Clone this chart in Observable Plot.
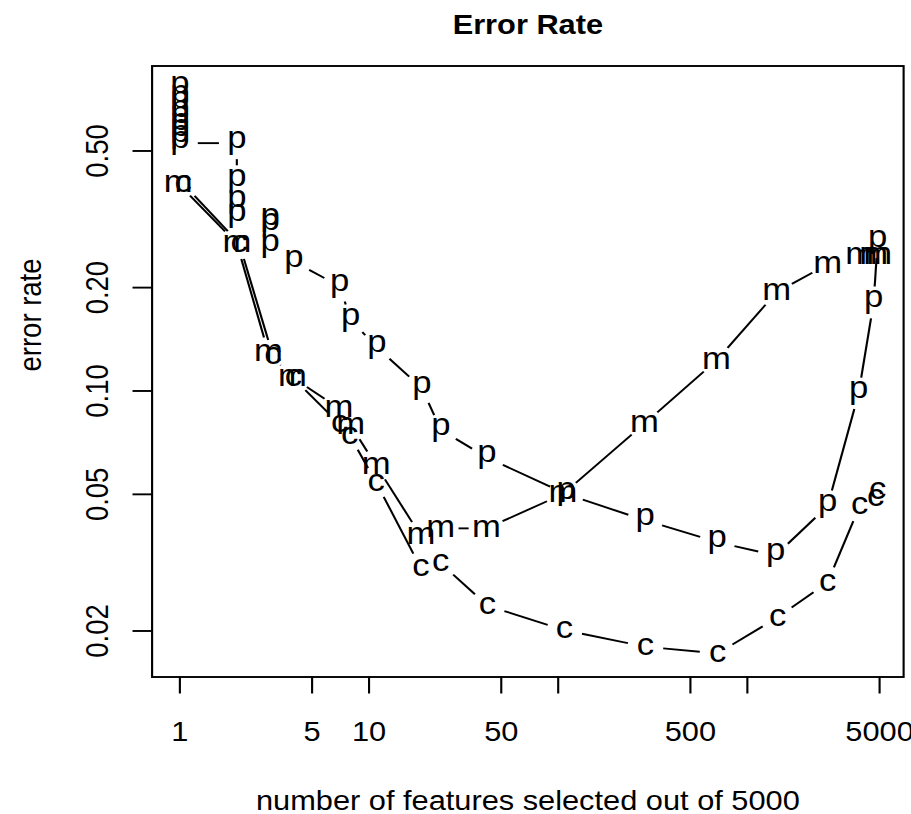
<!DOCTYPE html>
<html><head><meta charset="utf-8">
<script src="https://cdn.jsdelivr.net/npm/d3@7"></script>
<script src="https://cdn.jsdelivr.net/npm/@observablehq/plot@0.6"></script>
<style>html,body{margin:0;padding:0;background:#fff;} #chart svg{display:block;}</style>
</head><body><div id="chart"></div>
<script>
// ---- data ----
const pX = [1,1,1,1,1,1,1,1,1, 2,2,2,2, 3,3,3, 4, 7, 8, 11, 19, 24, 42, 110, 288, 692, 1410, 2656, 3873, 4650, 4882];
const pY = [0.76,0.72,0.69,0.65,0.625,0.595,0.57,0.55,0.527, 0.527,0.408,0.356,0.324, 0.315,0.305,0.265, 0.238, 0.202, 0.161, 0.134, 0.102, 0.077, 0.064, 0.0501, 0.042, 0.0363, 0.0332, 0.0462, 0.0983, 0.181, 0.2716];
const mX = [0.98, 2.0, 2.94, 3.94, 6.93, 8.0, 10.9, 18.8, 23.9, 41.8, 106, 286, 687, 1427, 2656, 3921, 4650, 4880];
const mY = [0.402, 0.269, 0.129, 0.1095, 0.089, 0.0794, 0.0607, 0.0378, 0.0398, 0.0398, 0.0501, 0.0804, 0.1227, 0.194, 0.2336, 0.247, 0.248, 0.248];
const cX = [1.04, 2.06, 3.1, 3.98, 7.0, 7.9, 10.9, 18.8, 23.9, 42.3, 108, 289, 696, 1444, 2656, 3921, 4764, 4882];
const cY = [0.402, 0.269, 0.127, 0.109, 0.080, 0.0742, 0.0542, 0.0305, 0.0315, 0.0237, 0.0201, 0.018, 0.0172, 0.0219, 0.0277, 0.0462, 0.049, 0.0513];
const xTicks = [1, 5, 10, 50, 100, 500, 1000, 5000];
const xTickLabels = [1, 5, 10, 50, 500, 5000];
const yTicks = [0.02, 0.05, 0.1, 0.2, 0.5];
const title = "Error Rate";
const xLabel = "number of features selected out of 5000";
const yLabel = "error rate";

// ---- layout ----
const W = 814, H = 814, OUTW = 911;
const FONT = "'Liberation Sans', Arial, Helvetica, sans-serif";
const series = [
  {name: "p", x: pX, y: pY},
  {name: "m", x: mX, y: mY},
  {name: "c", x: cX, y: cY}
];
const pts = series.flatMap(s => s.x.map((x, i) => ({s: s.name, x, y: s.y[i]})));
const layout = {width: W, height: H, marginTop: 65.5, marginBottom: 137.5, marginLeft: 135.4, marginRight: 7.1};
const scales = {
  x: {type: "log", domain: [0.713, 6699]},
  y: {type: "log", domain: [0.01469, 0.884]}
};
const probe = Plot.plot({...layout, ...scales, marks: [Plot.dot(pts, {x: "x", y: "y"})]});
const sx = probe.scale("x"), sy = probe.scale("y");
const GAP = 16;
const segs = [];
for (const s of series) {
  for (let i = 0; i + 1 < s.x.length; i++) {
    const x0 = sx.apply(s.x[i]), y0 = sy.apply(s.y[i]);
    const x1 = sx.apply(s.x[i + 1]), y1 = sy.apply(s.y[i + 1]);
    const dx = x1 - x0, dy = y1 - y0, f = Math.hypot(dx, dy);
    if (f > 2 * GAP) {
      const ux = GAP * dx / f, uy = GAP * dy / f;
      segs.push({x1: sx.invert(x0 + ux), y1: sy.invert(y0 + uy), x2: sx.invert(x1 - ux), y2: sy.invert(y1 - uy)});
    }
  }
}
const PCH = 31;
const FS = 27.5;
const plot = Plot.plot({
  ...layout, ...scales,
  style: {fontFamily: FONT, background: "white", color: "black"},
  marks: [
    Plot.link(segs, {x1: "x1", y1: "y1", x2: "x2", y2: "y2", stroke: "black", strokeWidth: 1.9}),
    Plot.text(pts.filter(d => d.s === "p"), {x: "x", y: "y", text: "s", fontSize: PCH, lineAnchor: "bottom", dy: 0.16 * PCH, fill: "black"}),
    Plot.text(pts.filter(d => d.s !== "p"), {x: "x", y: "y", text: "s", fontSize: PCH, lineAnchor: "bottom", dy: 0.265 * PCH, fill: "black"}),
    Plot.frame({stroke: "black", strokeWidth: 1.9}),
    Plot.axisX(xTicks, {tickSize: 17, strokeWidth: 1.9, label: null, tickFormat: () => ""}),
    Plot.text(xTickLabels, {x: d => d, text: d => String(d), frameAnchor: "bottom", lineAnchor: "top", dy: 44, fontSize: FS, fill: "black"}),
    Plot.axisY(yTicks, {tickSize: 17, tickPadding: 22, tickRotate: -90, fontSize: FS, strokeWidth: 1.9, label: null,
      tickFormat: d3.format(".2f")}),
    Plot.text([title], {text: d => d, frameAnchor: "top", lineAnchor: "bottom", dy: -32.2, fontWeight: "bold", fontSize: FS}),
    Plot.text([xLabel], {text: d => d, frameAnchor: "bottom", lineAnchor: "bottom", dy: 132.5, fontSize: FS}),
    Plot.text([yLabel], {text: d => d, frameAnchor: "left", rotate: -90, lineAnchor: "bottom", dx: -99.7, fontSize: FS})
  ]
});
plot.setAttribute("width", OUTW);
plot.setAttribute("height", H);
plot.setAttribute("preserveAspectRatio", "none");
plot.style.width = OUTW + "px";
plot.style.height = H + "px";
plot.style.maxWidth = "none";
document.getElementById("chart").appendChild(plot);
</script>
</body></html>
